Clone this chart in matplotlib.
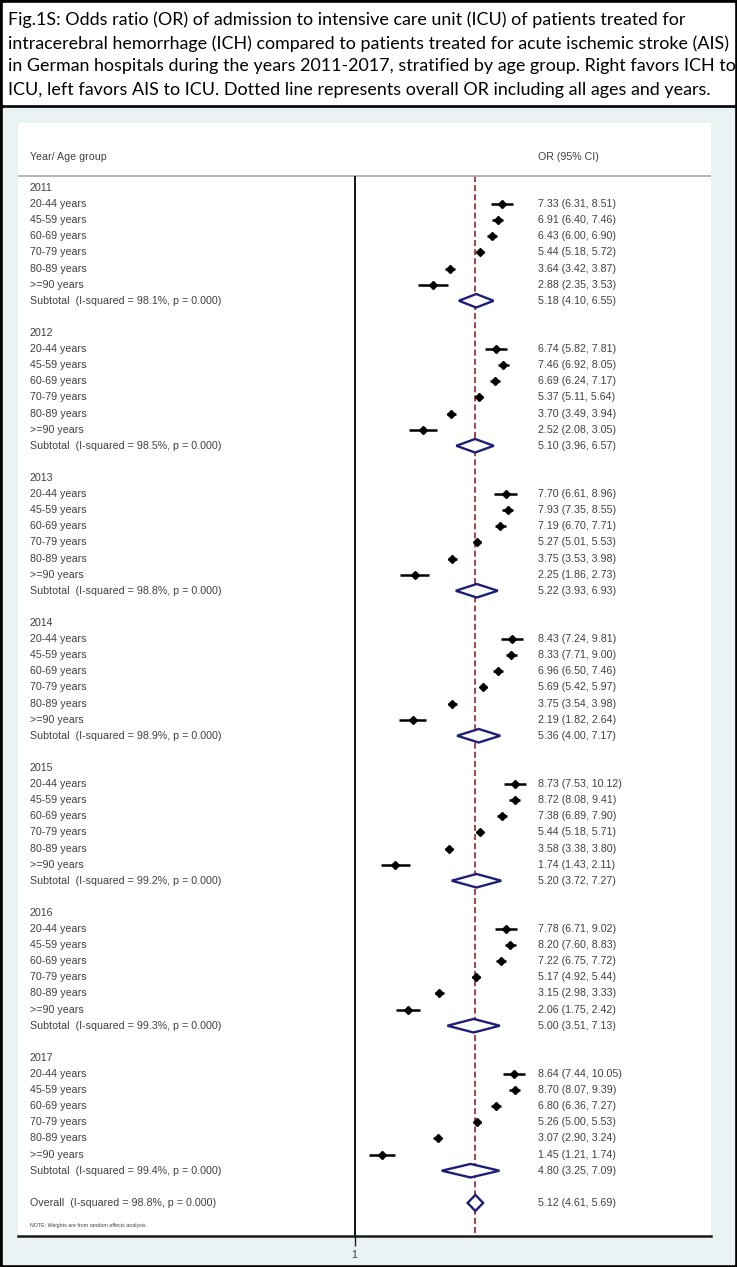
import numpy as np
import matplotlib
matplotlib.use("Agg")
import matplotlib.pyplot as plt
import matplotlib.transforms as mtransforms
from matplotlib.patches import Rectangle, Polygon
from matplotlib.ticker import NullLocator

''' Data read off the figure '''
years = [2011, 2012, 2013, 2014, 2015, 2016, 2017]
age_groups = ["20-44 years", "45-59 years", "60-69 years", "70-79 years",
              "80-89 years", ">=90 years"]

# odds ratio per year (rows) and age group (columns)
est = [[7.33, 6.91, 6.43, 5.44, 3.64, 2.88],
       [6.74, 7.46, 6.69, 5.37, 3.70, 2.52],
       [7.70, 7.93, 7.19, 5.27, 3.75, 2.25],
       [8.43, 8.33, 6.96, 5.69, 3.75, 2.19],
       [8.73, 8.72, 7.38, 5.44, 3.58, 1.74],
       [7.78, 8.20, 7.22, 5.17, 3.15, 2.06],
       [8.64, 8.70, 6.80, 5.26, 3.07, 1.45]]
lower = [[6.31, 6.40, 6.00, 5.18, 3.42, 2.35],
         [5.82, 6.92, 6.24, 5.11, 3.49, 2.08],
         [6.61, 7.35, 6.70, 5.01, 3.53, 1.86],
         [7.24, 7.71, 6.50, 5.42, 3.54, 1.82],
         [7.53, 8.08, 6.89, 5.18, 3.38, 1.43],
         [6.71, 7.60, 6.75, 4.92, 2.98, 1.75],
         [7.44, 8.07, 6.36, 5.00, 2.90, 1.21]]
upper = [[8.51, 7.46, 6.90, 5.72, 3.87, 3.53],
         [7.81, 8.05, 7.17, 5.64, 3.94, 3.05],
         [8.96, 8.55, 7.71, 5.53, 3.98, 2.73],
         [9.81, 9.00, 7.46, 5.97, 3.98, 2.64],
         [10.12, 9.41, 7.90, 5.71, 3.80, 2.11],
         [9.02, 8.83, 7.72, 5.44, 3.33, 2.42],
         [10.05, 9.39, 7.27, 5.53, 3.24, 1.74]]

sub_est = [5.18, 5.10, 5.22, 5.36, 5.20, 5.00, 4.80]
sub_lo = [4.10, 3.96, 3.93, 4.00, 3.72, 3.51, 3.25]
sub_hi = [6.55, 6.57, 6.93, 7.17, 7.27, 7.13, 7.09]
sub_i2 = [98.1, 98.5, 98.8, 98.9, 99.2, 99.3, 99.4]

overall_est, overall_lo, overall_hi, overall_i2 = 5.12, 4.61, 5.69, 98.8

caption = [
    "Fig.1S: Odds ratio (OR) of admission to intensive care unit (ICU) of patients treated for",
    "intracerebral hemorrhage (ICH) compared to patients treated for acute ischemic stroke (AIS)",
    "in German hospitals during the years 2011-2017, stratified by age group. Right favors ICH to",
    "ICU, left favors AIS to ICU. Dotted line represents overall OR including all ages and years.",
]

''' Layout (pixels of the 737x1267 picture) '''
W, H = 737, 1267
pan_l, pan_r, pan_t, pan_b = 18, 711, 123, 1236
x_one, px_ln = 354.5, 74.0      # where OR=1 sits, pixels per log unit
row0, row_h = 188, 16.11
txt_col = "#404040"
navy = "#1e1e78"
maroon = "#a3424a"

fig = plt.figure(figsize=(W / 100, H / 100), dpi=100)

# frame, caption box and stata-like graph region
bg = fig.add_axes([0, 0, 1, 1])
bg.set_xlim(0, W)
bg.set_ylim(H, 0)
bg.axis("off")
bg.add_patch(Rectangle((0, 0), W, H, color="black"))
bg.add_patch(Rectangle((3, 3), W - 6, 101, color="white"))
bg.add_patch(Rectangle((3, 108), W - 6, H - 111, color="#eaf2f3"))

cap_y = [20, 43.5, 66.5, 89.5]
cap_txt = [bg.text(8, y, s, fontsize=12, family="Lato", va="center", color="black")
           for s, y in zip(caption, cap_y)]
rend = fig.canvas.get_renderer()
wmax = max(t.get_window_extent(rend).width for t in cap_txt)
for t in cap_txt:
    t.set_fontsize(12 * 724 / wmax)

# forest plot panel
ax = fig.add_axes([pan_l / W, 1 - pan_b / H, (pan_r - pan_l) / W, (pan_b - pan_t) / H])
ax.set_facecolor("white")
ax.set_xscale("log")
ax.set_xlim(np.exp((pan_l - x_one) / px_ln), np.exp((pan_r - x_one) / px_ln))
y_bot = (pan_b - row0) / row_h
ax.set_ylim(y_bot, (pan_t - row0) / row_h)
for s in ["top", "left", "right"]:
    ax.spines[s].set_visible(False)
ax.spines["bottom"].set_linewidth(1.8)
ax.spines["bottom"].set_color("#1a1a1a")
ax.set_yticks([])
ax.set_xticks([1])
ax.set_xticklabels(["1"])
ax.xaxis.set_minor_locator(NullLocator())
ax.tick_params(axis="x", length=7, width=1.0, labelsize=7.7, pad=3,
               labelcolor=txt_col, color="#1a1a1a")
for lab in ax.get_xticklabels():
    lab.set_family("Liberation Sans")

tr = mtransforms.blended_transform_factory(ax.transAxes, ax.transData)
xl = (30 - pan_l) / (pan_r - pan_l)
xr = (538 - pan_l) / (pan_r - pan_l)
fkw = dict(fontsize=7.7, family="Liberation Sans", color=txt_col, va="center", transform=tr)

head_row = (157 - row0) / row_h
sep_row = (176 - row0) / row_h
ax.text(xl, head_row, "Year/ Age group", **fkw)
ax.text(xr, head_row, "OR (95% CI)", **fkw)
ax.axhline(sep_row, color="#a8a8a8", lw=1.2)

ax.vlines(1, sep_row, y_bot, color="black", lw=1.3, zorder=2)
ax.vlines(overall_est, sep_row, y_bot, color=maroon, lw=1.4,
          linestyles=(0, (3.1, 1.6)), zorder=1)


def diamond(e, lo, hi, r, h):
    p = Polygon([(lo, r), (e, r - h), (hi, r), (e, r + h)], closed=True,
                facecolor="white", edgecolor=navy, lw=1.7, zorder=3)
    ax.add_patch(p)


for b, yr in enumerate(years):
    base = 9 * b
    ax.text(xl, base, str(yr), **fkw)
    for g, grp in enumerate(age_groups):
        r = base + 1 + g
        ax.text(xl, r, grp, **fkw)
        ax.plot([lower[b][g], upper[b][g]], [r, r], color="black", lw=1.8,
                solid_capstyle="butt", zorder=3)
        ax.plot(est[b][g], r, marker="D", ms=4.4, color="black", zorder=4)
        ax.text(xr, r, "%.2f (%.2f, %.2f)" % (est[b][g], lower[b][g], upper[b][g]), **fkw)
    r = base + 7
    ax.text(xl, r, "Subtotal  (I-squared = %.1f%%, p = 0.000)" % sub_i2[b], **fkw)
    diamond(sub_est[b], sub_lo[b], sub_hi[b], r, 0.42)
    ax.text(xr, r, "%.2f (%.2f, %.2f)" % (sub_est[b], sub_lo[b], sub_hi[b]), **fkw)

r = 9 * len(years)
ax.text(xl, r, "Overall  (I-squared = %.1f%%, p = 0.000)" % overall_i2, **fkw)
diamond(overall_est, overall_lo, overall_hi, r, 0.5)
ax.text(xr, r, "%.2f (%.2f, %.2f)" % (overall_est, overall_lo, overall_hi), **fkw)

note_kw = dict(fkw)
note_kw["fontsize"] = 3.8
ax.text(xl, (1226 - row0) / row_h, "NOTE: Weights are from random effects analysis", **note_kw)

fig.savefig("out.png", dpi=100)
